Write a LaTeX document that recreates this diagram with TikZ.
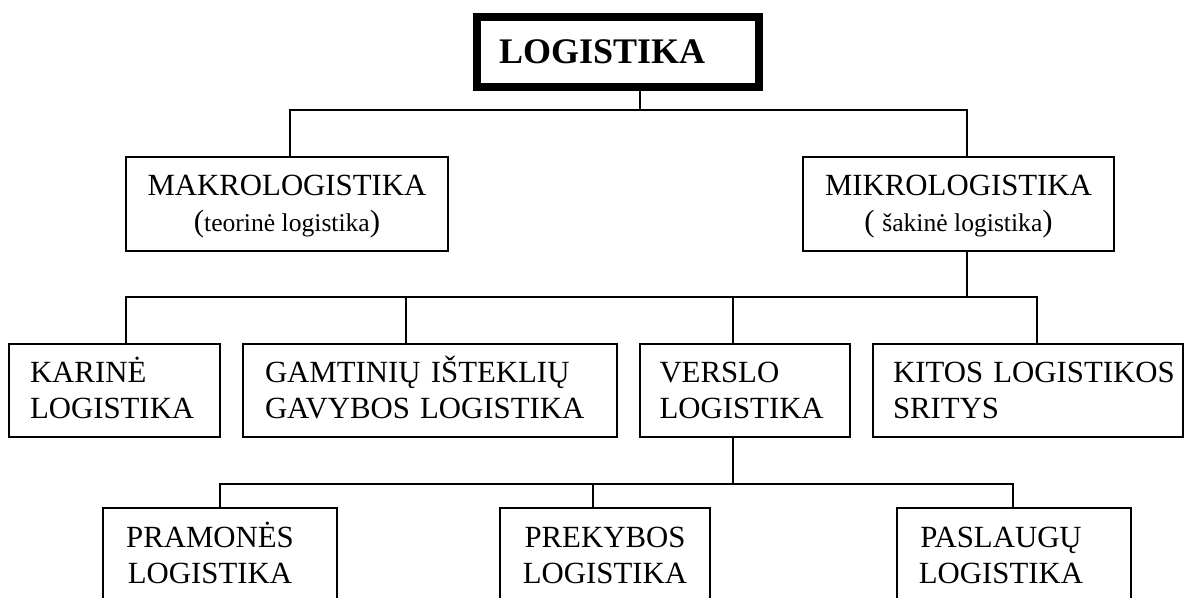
\documentclass[tikz,border=0pt]{standalone}
\usepackage{fontspec}
\setmainfont{Liberation Serif}
\usetikzlibrary{positioning}

\newcommand{\boxfont}{\fontsize{30.8}{36}\selectfont}
\newcommand{\notefont}{\fontsize{25.6}{35}\selectfont}
\newcommand{\headfont}{\fontsize{36}{40}\selectfont\bfseries}
% two lines with fixed first-line height and last-line depth
\newcommand{\twolines}[2]{\rule{0pt}{28pt}#1\\#2\rule[-9pt]{0pt}{9pt}}

\tikzset{
  unit/.style={draw, line width=1.8pt, anchor=north west, outer sep=0pt, inner ysep=0pt, font=\boxfont},
  link/.style={line width=1.6pt},
}

\begin{document}
\begin{tikzpicture}[x=1pt, y=-1pt]
\useasboundingbox (0,0) rectangle (1188,597);
\clip (0,0) rectangle (1188,597);

% head
\node[unit, line width=8.5pt, minimum width=282pt, minimum height=70pt, text width=238pt, inner xsep=22pt, align=left, font=\headfont] (logistika) at (477,17) {LOGISTIKA};

% makro / mikro
\node[unit, minimum width=322pt, minimum height=94pt, align=center] (makro) at (126,157)
  {\twolines{MAKROLOGISTIKA}{(\notefont teorinė logistika\boxfont)}};
\node[unit, minimum width=311pt, minimum height=94pt, align=center] (mikro) at (803,157)
  {\twolines{MIKROLOGISTIKA}{( \notefont šakinė logistika\boxfont)}};

% mikrologistikos sritys
\node[unit, minimum width=211pt, minimum height=93pt, text width=169pt, inner xsep=21pt, align=left] (karine) at (9,344) {\twolines{KARINĖ}{LOGISTIKA}};
\node[unit, minimum width=374pt, minimum height=93pt, text width=330pt, inner xsep=22pt, align=left] (gamtiniu) at (243,344) {\twolines{GAMTINIŲ IŠTEKLIŲ}{GAVYBOS LOGISTIKA}};
\node[unit, minimum width=210pt, minimum height=93pt, text width=171pt, inner xsep=19.5pt, align=left] (verslo) at (640,344) {\twolines{VERSLO}{LOGISTIKA}};
\node[unit, minimum width=310pt, minimum height=93pt, text width=270pt, inner xsep=20pt, align=left] (kitos) at (873,344) {\twolines{\mbox{KITOS LOGISTIKOS}}{SRITYS}};

% verslo logistika
\node[unit, minimum width=234pt, minimum height=95pt, align=center] (pramones) at (103,508) {\twolines{PRAMONĖS\hspace*{20pt}}{LOGISTIKA\hspace*{20pt}}};
\node[unit, minimum width=210pt, minimum height=95pt, align=center] (prekybos) at (500,508) {\twolines{PREKYBOS}{LOGISTIKA}};
\node[unit, minimum width=234pt, minimum height=95pt, align=center] (paslaugu) at (897,508) {\twolines{PASLAUGŲ\hspace*{26pt}}{LOGISTIKA\hspace*{26pt}}};

% connectors
\draw[link] ([xshift=163pt]logistika.south west) -- ++(0,23);
\draw[link] ([xshift=164pt]makro.north west) -- ++(0,-47) -| ([xshift=164pt]mikro.north west);

\draw[link] ([xshift=164pt]mikro.south west) -- ++(0,46);
\draw[link] ([xshift=117pt]karine.north west) -- ++(0,-47) -| ([xshift=164pt]kitos.north west);
\draw[link] ([xshift=163pt]gamtiniu.north west) -- ++(0,-47);
\draw[link] ([xshift=93pt]verslo.north west) -- ++(0,-47);

\draw[link] ([xshift=93pt]verslo.south west) -- ++(0,47);
\draw[link] ([xshift=117pt]pramones.north west) -- ++(0,-24) -| ([xshift=116pt]paslaugu.north west);
\draw[link] ([xshift=93pt]prekybos.north west) -- ++(0,-24);
\end{tikzpicture}
\end{document}
